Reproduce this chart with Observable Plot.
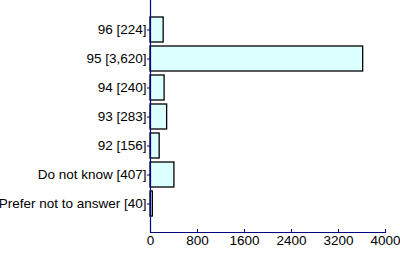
<!DOCTYPE html>
<html>
<head>
<meta charset="utf-8">
<script src="https://cdn.jsdelivr.net/npm/d3@7"></script>
<script src="https://cdn.jsdelivr.net/npm/@observablehq/plot@0.6"></script>
<style>
  html, body { margin: 0; padding: 0; background: #fff; }
</style>
</head>
<body>
<div id="chart"></div>
<script>
const categories = ["96", "95", "94", "93", "92", "Do not know", "Prefer not to answer"];
const counts = [224, 3620, 240, 283, 156, 407, 40];
const xTicks = [0, 800, 1600, 2400, 3200, 4000];

const fmt = d3.format(",");
const labels = categories.map((c, i) => `${c} [${fmt(counts[i])}]`);
const data = categories.map((c, i) => ({label: labels[i], value: counts[i]}));

const axisColor = "#000080";

const chart = Plot.plot({
  width: 400,
  height: 254,
  marginTop: 0,
  marginLeft: 150,
  marginRight: 15,
  marginBottom: 22,
  style: {fontFamily: "'Liberation Sans', Arial, sans-serif", fontSize: "13.5px", color: "#000", background: "#fff"},
  x: {domain: [0, 4000], ticks: xTicks, label: null},
  y: {domain: labels, paddingInner: 0.14, paddingOuter: 0.57, label: null},
  marks: [
    Plot.barX(data, {x: "value", y: "label", fill: "#dcffff", stroke: "#000", strokeWidth: 1.3}),
    Plot.axisY({tickSize: 3, tickPadding: 1, stroke: axisColor, color: "#000"}),
    Plot.axisX({ticks: xTicks, tickSize: -3, tickPadding: 6, stroke: axisColor, tickFormat: d => String(d), color: "#000"}),
    Plot.frame({anchor: "bottom", stroke: axisColor, strokeWidth: 1.2}),
    Plot.ruleX([0], {stroke: axisColor, strokeWidth: 1.2})
  ]
});
document.getElementById("chart").appendChild(chart);
</script>
</body>
</html>
